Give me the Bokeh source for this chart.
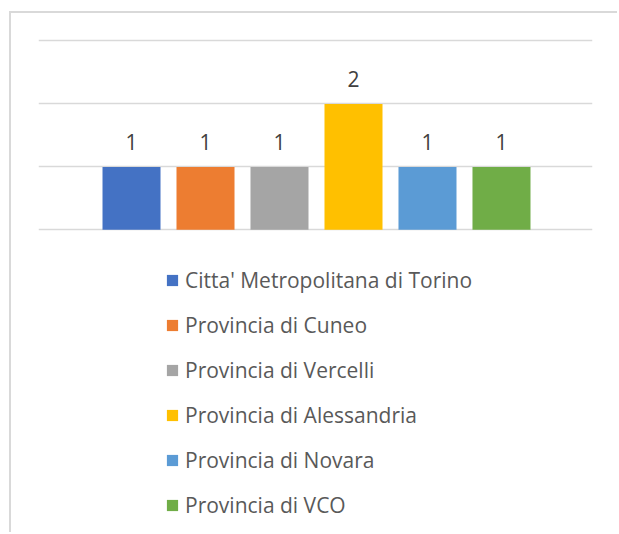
from bokeh.plotting import figure
from bokeh.models import (ColumnDataSource, Range1d, Grid, FixedTicker, Legend, LegendItem)
from bokeh.core.properties import value
from bokeh.embed import file_html
from bokeh.resources import INLINE

names = ["Citta' Metropolitana di Torino", "Provincia di Cuneo", "Provincia di Vercelli",
         "Provincia di Alessandria", "Provincia di Novara", "Provincia di VCO"]
counts = [1, 1, 1, 2, 1, 1]
colors = ["#4472C4", "#ED7D31", "#A5A5A5", "#FFC000", "#5B9BD5", "#70AD47"]
y_ticks = [0, 1, 2, 3]

idx = list(range(len(names)))
src = ColumnDataSource(dict(x=idx, top=counts, color=colors, name=names,
                            label=[str(c) for c in counts]))

FONT = "Open Sans"

p = figure(width=608, height=521, output_backend="svg", toolbar_location=None,
           x_axis_type=None, y_axis_type=None,
           x_range=Range1d(-1.257, 6.23), y_range=Range1d(-4.841, 3.0397),
           min_border_left=27, min_border_right=27, min_border_top=25,
           min_border_bottom=0)
p.outline_line_color = None
p.styles = {"border-top": "2px solid #d9d9d9", "border-left": "2px solid #d9d9d9",
            "margin-left": "9px", "margin-top": "11px"}

g = Grid(dimension=1, ticker=FixedTicker(ticks=y_ticks), grid_line_color="#d9d9d9",
         grid_line_width=1.5)
p.add_layout(g)

renderers = []
for i in idx:
    r = p.vbar(x=[idx[i]], top=[counts[i]], width=0.784, fill_color=colors[i], line_color=None)
    renderers.append(r)

p.text(x="x", y="top", text="label", source=src, text_align="center",
       text_baseline="alphabetic", y_offset=-25, text_font=value(FONT),
       text_font_size="21px", text_color="#404040")

legend = Legend(items=[LegendItem(label=names[i], renderers=[renderers[i]]) for i in idx],
                location=(127, 15), orientation="vertical",
                glyph_width=14, glyph_height=14, label_standoff=6, label_height=24,
                label_text_font=FONT, label_text_font_size="21px",
                label_text_color="#595959", spacing=17, padding=0, margin=0,
                border_line_color=None, background_fill_alpha=0)
p.add_layout(legend)

open("out.html", "w").write(file_html(p, INLINE))
